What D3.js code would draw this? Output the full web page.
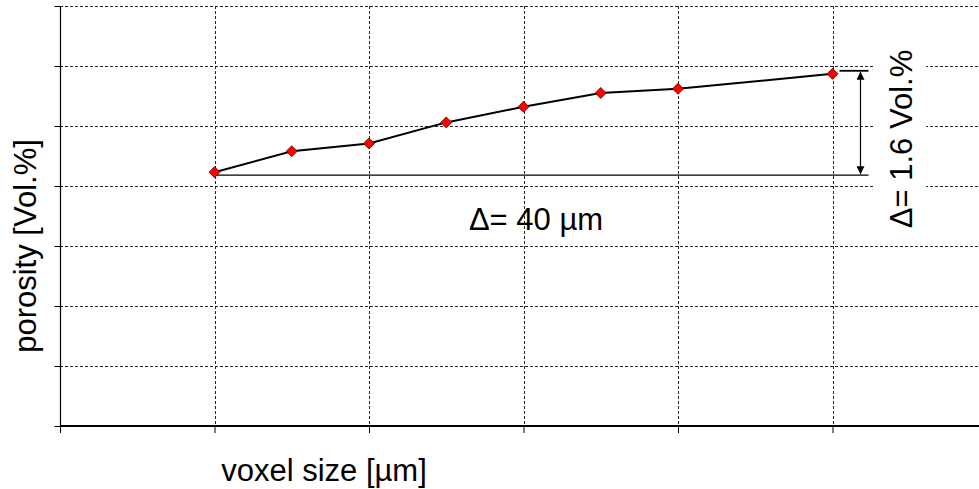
<!DOCTYPE html>
<html>
<head>
<meta charset="utf-8">
<script src="https://cdn.jsdelivr.net/npm/d3@7"></script>
<style>
  html, body { margin: 0; padding: 0; background: #fff; }
  svg { display: block; font-family: Arial, "Liberation Sans", sans-serif; }
</style>
</head>
<body>
<svg id="chart" width="979" height="489"></svg>
<script>
// voxel size [µm] and measured porosity (grid units of 1 Vol.%)
const voxelSizes = [10, 15, 20, 25, 30, 35, 40, 50];
const porosity = [4.23, 4.58, 4.71, 5.06, 5.32, 5.55, 5.62, 5.87];
const xGrid = [0, 10, 20, 30, 40, 50, 60];
const yGrid = [0, 1, 2, 3, 4, 5, 6, 7];

const svg = d3.select("#chart");
const margin = { left: 60, top: 6, bottom: 63 };
const plotRight = 987;
const H = 489;

const x = d3.scaleLinear().domain([0, 60]).range([margin.left, plotRight]);
const y = d3.scaleLinear().domain([0, 7]).range([H - margin.bottom, margin.top]);

const grid = svg.append("g").attr("class", "grid");

// horizontal gridlines
grid.selectAll("line.h")
  .data(yGrid.filter(d => d > 0))
  .join("line")
  .attr("x1", x(0)).attr("x2", plotRight)
  .attr("y1", d => Math.round(y(d)) + 0.5).attr("y2", d => Math.round(y(d)) + 0.5)
  .attr("stroke", "#262626").attr("stroke-width", 1)
  .attr("stroke-dasharray", "3,2");

// vertical gridlines
grid.selectAll("line.v")
  .data(xGrid.filter(d => d > 0))
  .join("line")
  .attr("x1", d => Math.round(x(d)) + 0.5).attr("x2", d => Math.round(x(d)) + 0.5)
  .attr("y1", y(7)).attr("y2", y(0))
  .attr("stroke", "#262626").attr("stroke-width", 1)
  .attr("stroke-dasharray", "3,2");

// axes
const yAxis = d3.axisLeft(y).tickValues(yGrid).tickSize(6).tickFormat("");
svg.append("g")
  .attr("transform", `translate(${x(0) + 0.5},0)`)
  .call(yAxis)
  .call(g => g.select(".domain").remove())
  .call(g => g.selectAll(".tick line").attr("stroke", "#000"));
svg.append("line")
  .attr("x1", x(0) + 0.5).attr("x2", x(0) + 0.5)
  .attr("y1", y(7)).attr("y2", y(0))
  .attr("stroke", "#000").attr("stroke-width", 1.2);

const xAxis = d3.axisBottom(x).tickValues(xGrid).tickSize(7).tickFormat("");
svg.append("g")
  .attr("transform", `translate(0,${y(0)})`)
  .call(xAxis)
  .call(g => g.select(".domain").remove())
  .call(g => g.selectAll(".tick line").attr("stroke", "#000"));
svg.append("line")
  .attr("x1", x(0)).attr("x2", plotRight)
  .attr("y1", y(0)).attr("y2", y(0))
  .attr("stroke", "#000").attr("stroke-width", 2.2);

// white box behind the vertical annotation label
svg.append("rect")
  .attr("x", 875).attr("y", 30).attr("width", 51).attr("height", 206)
  .attr("fill", "#fff");

// annotation: difference brackets
const x0 = x(voxelSizes[0]);
const xEnd = x(voxelSizes[voxelSizes.length - 1]) + 36;
const yLow = y(porosity[0]) + 3;
const yHigh = y(porosity[porosity.length - 1]) - 3;
const xArrow = xEnd - 8;

svg.append("line")
  .attr("x1", x0).attr("x2", xEnd).attr("y1", yLow).attr("y2", yLow)
  .attr("stroke", "#000").attr("stroke-width", 1.3);
svg.append("line")
  .attr("x1", xEnd - 29).attr("x2", xEnd).attr("y1", yHigh).attr("y2", yHigh)
  .attr("stroke", "#000").attr("stroke-width", 1.8);

svg.append("defs").append("marker")
  .attr("id", "ah").attr("viewBox", "0 0 10 10")
  .attr("refX", 10).attr("refY", 5)
  .attr("markerWidth", 8).attr("markerHeight", 8)
  .attr("markerUnits", "userSpaceOnUse")
  .attr("orient", "auto-start-reverse")
  .append("path").attr("d", "M0,0 L10,5 L0,10 Z").attr("fill", "#000");

svg.append("line")
  .attr("x1", xArrow).attr("x2", xArrow)
  .attr("y1", yHigh + 1).attr("y2", yLow - 1)
  .attr("stroke", "#000").attr("stroke-width", 1.2)
  .attr("marker-start", "url(#ah)").attr("marker-end", "url(#ah)");

// data line
const pts = voxelSizes.map((v, i) => [v, porosity[i]]);
svg.append("path")
  .datum(pts)
  .attr("fill", "none").attr("stroke", "#000").attr("stroke-width", 2)
  .attr("d", d3.line().x(d => x(d[0])).y(d => y(d[1])));

// diamond markers
svg.selectAll("path.pt")
  .data(pts)
  .join("path")
  .attr("class", "pt")
  .attr("transform", d => `translate(${x(d[0])},${y(d[1])})`)
  .attr("d", "M0,-5.5 L5.5,0 L0,5.5 L-5.5,0 Z")
  .attr("fill", "#ff0000").attr("stroke", "#550000").attr("stroke-width", 0.8);

// labels
svg.append("text")
  .attr("x", 536).attr("y", 230)
  .attr("text-anchor", "middle")
  .attr("font-size", 31)
  .text("Δ= 40 µm");

svg.append("text")
  .attr("transform", "translate(912,139) rotate(-90)")
  .attr("text-anchor", "middle")
  .attr("font-size", 31)
  .text("Δ= 1.6 Vol.%");

svg.append("text")
  .attr("x", 324).attr("y", 481)
  .attr("text-anchor", "middle")
  .attr("font-size", 31)
  .text("voxel size [µm]");

svg.append("text")
  .attr("transform", "translate(36,246) rotate(-90)")
  .attr("text-anchor", "middle")
  .attr("font-size", 31)
  .text("porosity [Vol.%]");
</script>
</body>
</html>
